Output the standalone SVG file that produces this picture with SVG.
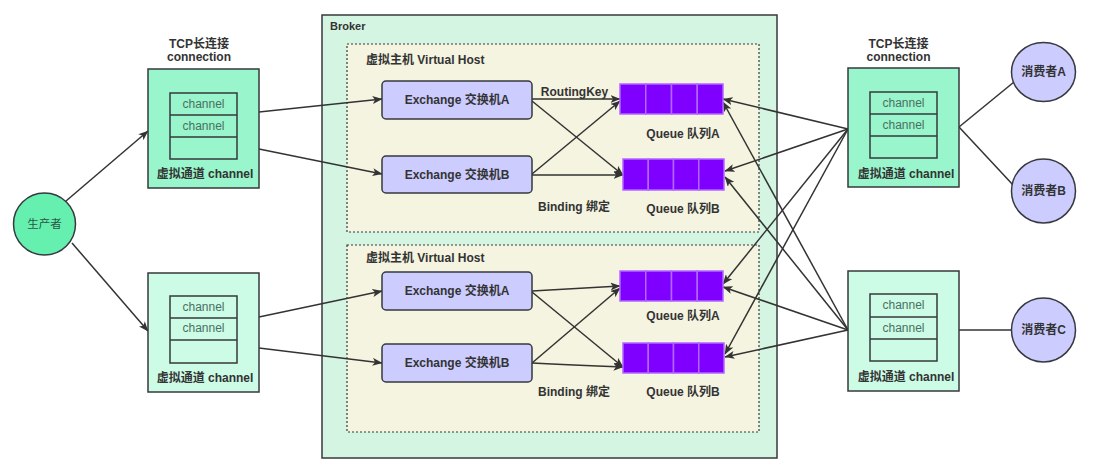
<svg xmlns="http://www.w3.org/2000/svg" width="1102" height="474" viewBox="0 0 1102 474">
<defs>
<style>
text{font-family:"Liberation Sans","Noto Sans CJK SC",sans-serif;fill:#333;}
.b{font-weight:bold;font-size:12px;}
.s{font-size:11.5px;}
.c{text-anchor:middle;}
.ch{font-size:12px;fill:#4a7060;text-anchor:middle;}
.box1{fill:#99f5cc;stroke:#36393d;stroke-width:1.5;}
.box2{fill:#ccfbe6;stroke:#36393d;stroke-width:1.5;}
.inner{fill:none;stroke:#36393d;stroke-width:1.5;}
.ex{fill:#ccccff;stroke:#36393d;stroke-width:1.5;}
.q{fill:#7f00ff;stroke:#b266ff;stroke-width:1.5;}
.vh{fill:#f4f4e0;stroke:#36393d;stroke-width:1.2;stroke-dasharray:2,2;}
.cn line,.cn path{stroke:#333;stroke-width:1.5;fill:none;}
.cn .a{marker-end:url(#ah);}
</style>
<marker id="ah" viewBox="0 0 10 8" refX="9.5" refY="4" markerWidth="10" markerHeight="8" markerUnits="userSpaceOnUse" orient="auto">
<path d="M0,0 L10,4 L0,8 L2.5,4 z" fill="#333"/>
</marker>
</defs>
<rect width="1102" height="474" fill="#fff"/>

<g id="broker">
<rect x="322" y="15" width="455" height="443" fill="#d5f5e3" stroke="#36393d" stroke-width="1.5"/>
<text class="b" x="330" y="30" style="font-size:11px">Broker</text>
</g>
<g id="vhost1">
<rect class="vh" x="347" y="44" width="412" height="188"/>
<text class="b" x="366" y="64">虚拟主机 Virtual Host</text>
</g>
<g id="vhost2">
<rect class="vh" x="347" y="245" width="412" height="187"/>
<text class="b" x="366" y="262">虚拟主机 Virtual Host</text>
</g>

<g id="connectors" class="cn">
<line class="a" x1="66" y1="201" x2="148" y2="131"/>
<line class="a" x1="72" y1="243" x2="148" y2="331"/>
<line class="a" x1="259" y1="112" x2="382" y2="99"/>
<line class="a" x1="259" y1="149" x2="382" y2="174"/>
<line class="a" x1="259" y1="317" x2="382" y2="291"/>
<line class="a" x1="259" y1="348" x2="382" y2="363"/>
<line class="a" x1="532" y1="99" x2="620" y2="99"/>
<line class="a" x1="532" y1="101" x2="623" y2="175"/>
<line class="a" x1="532" y1="174" x2="620" y2="101"/>
<line class="a" x1="532" y1="175" x2="623" y2="175"/>
<line class="a" x1="532" y1="291" x2="620" y2="286"/>
<line class="a" x1="532" y1="292" x2="623" y2="367"/>
<line class="a" x1="532" y1="363" x2="620" y2="288"/>
<path class="a" d="M532,363 Q570,365 623,367"/>
<line class="a" x1="848" y1="129" x2="723" y2="99"/>
<line class="a" x1="848" y1="129" x2="725" y2="171"/>
<line class="a" x1="848" y1="129" x2="723" y2="284"/>
<line class="a" x1="848" y1="129" x2="725" y2="354"/>
<line class="a" x1="848" y1="330" x2="723" y2="102"/>
<line class="a" x1="848" y1="330" x2="725" y2="177"/>
<line class="a" x1="848" y1="330" x2="723" y2="287"/>
<line class="a" x1="848" y1="330" x2="725" y2="357"/>
<line x1="959" y1="127" x2="1014" y2="82"/>
<line x1="959" y1="127" x2="1014" y2="186"/>
<line x1="959" y1="330" x2="1011" y2="330"/>
</g>

<g id="producer">
<circle cx="44.5" cy="224" r="31" fill="#66f0b0" stroke="#36393d" stroke-width="1.5"/>
<text class="c" x="44.5" y="228" style="font-size:11.5px;fill:#2d5545">生产者</text>
</g>

<g id="conn-left-top">
<text class="b c" x="199" y="48">TCP长连接</text>
<text class="b c" x="199" y="61">connection</text>
<rect class="box1" x="148" y="69" width="111" height="119"/>
<rect class="inner" x="170" y="93" width="67" height="66"/>
<line class="inner" x1="170" y1="115" x2="237" y2="115"/>
<line class="inner" x1="170" y1="137" x2="237" y2="137"/>
<text class="ch" x="203.5" y="108">channel</text>
<text class="ch" x="203.5" y="130">channel</text>
<text class="b c" x="205" y="178">虚拟通道 channel</text>
</g>

<g id="conn-left-bottom">
<rect class="box2" x="148" y="273" width="111" height="119"/>
<rect class="inner" x="170" y="296" width="67" height="67"/>
<line class="inner" x1="170" y1="318" x2="237" y2="318"/>
<line class="inner" x1="170" y1="340" x2="237" y2="340"/>
<text class="ch" x="203.5" y="311">channel</text>
<text class="ch" x="203.5" y="332">channel</text>
<text class="b c" x="205" y="382">虚拟通道 channel</text>
</g>

<g id="conn-right-top">
<text class="b c" x="898.5" y="48">TCP长连接</text>
<text class="b c" x="898.5" y="61">connection</text>
<rect class="box1" x="848" y="68" width="111" height="119"/>
<rect class="inner" x="870" y="92" width="67" height="66"/>
<line class="inner" x1="870" y1="114" x2="937" y2="114"/>
<line class="inner" x1="870" y1="136" x2="937" y2="136"/>
<text class="ch" x="903.5" y="107">channel</text>
<text class="ch" x="903.5" y="129">channel</text>
<text class="b c" x="906" y="178">虚拟通道 channel</text>
</g>

<g id="conn-right-bottom">
<rect class="box2" x="848" y="271" width="111" height="120"/>
<rect class="inner" x="870" y="294" width="67" height="67"/>
<line class="inner" x1="870" y1="317" x2="937" y2="317"/>
<line class="inner" x1="870" y1="339" x2="937" y2="339"/>
<text class="ch" x="903.5" y="309">channel</text>
<text class="ch" x="903.5" y="332">channel</text>
<text class="b c" x="906" y="381">虚拟通道 channel</text>
</g>

<g id="vh1-exchangeA">
<rect class="ex" x="382" y="81" width="150" height="38" rx="4"/>
<text class="b c" x="457" y="104">Exchange 交换机A</text>
</g>
<g id="vh1-exchangeB">
<rect class="ex" x="382" y="156" width="150" height="37" rx="4"/>
<text class="b c" x="457" y="179">Exchange 交换机B</text>
</g>
<g id="vh2-exchangeA">
<rect class="ex" x="382" y="272" width="150" height="38" rx="4"/>
<text class="b c" x="457" y="295">Exchange 交换机A</text>
</g>
<g id="vh2-exchangeB">
<rect class="ex" x="382" y="344" width="150" height="38" rx="4"/>
<text class="b c" x="457" y="367">Exchange 交换机B</text>
</g>

<g id="vh1-queueA">
<rect class="q" x="620" y="84" width="25.75" height="30"/>
<rect class="q" x="645.75" y="84" width="25.75" height="30"/>
<rect class="q" x="671.5" y="84" width="25.75" height="30"/>
<rect class="q" x="697.25" y="84" width="25.75" height="30"/>
<text class="b c" x="683" y="138">Queue 队列A</text>
</g>
<g id="vh1-queueB">
<rect class="q" x="623" y="159" width="25.25" height="31"/>
<rect class="q" x="648.25" y="159" width="25.25" height="31"/>
<rect class="q" x="673.5" y="159" width="25.25" height="31"/>
<rect class="q" x="698.75" y="159" width="25.25" height="31"/>
<text class="b c" x="683" y="213">Queue 队列B</text>
</g>
<g id="vh2-queueA">
<rect class="q" x="620" y="271" width="25.75" height="30"/>
<rect class="q" x="645.75" y="271" width="25.75" height="30"/>
<rect class="q" x="671.5" y="271" width="25.75" height="30"/>
<rect class="q" x="697.25" y="271" width="25.75" height="30"/>
<text class="b c" x="683" y="320">Queue 队列A</text>
</g>
<g id="vh2-queueB">
<rect class="q" x="623" y="343" width="25.25" height="30"/>
<rect class="q" x="648.25" y="343" width="25.25" height="30"/>
<rect class="q" x="673.5" y="343" width="25.25" height="30"/>
<rect class="q" x="698.75" y="343" width="25.25" height="30"/>
<text class="b c" x="683" y="396">Queue 队列B</text>
</g>

<g id="labels">
<text class="b c" x="574.5" y="96">RoutingKey</text>
<text class="b c" x="574" y="211">Binding 绑定</text>
<text class="b c" x="574" y="396">Binding 绑定</text>
</g>

<g id="consumerA">
<ellipse cx="1043.5" cy="72" rx="32" ry="29.5" fill="#ccccff" stroke="#36393d" stroke-width="1.5"/>
<text class="b c" x="1043.5" y="76">消费者A</text>
</g>
<g id="consumerB">
<circle cx="1043.5" cy="191" r="32" fill="#ccccff" stroke="#36393d" stroke-width="1.5"/>
<text class="b c" x="1043.5" y="195">消费者B</text>
</g>
<g id="consumerC">
<circle cx="1043.5" cy="330" r="32" fill="#ccccff" stroke="#36393d" stroke-width="1.5"/>
<text class="b c" x="1043.5" y="334">消费者C</text>
</g>
</svg>
